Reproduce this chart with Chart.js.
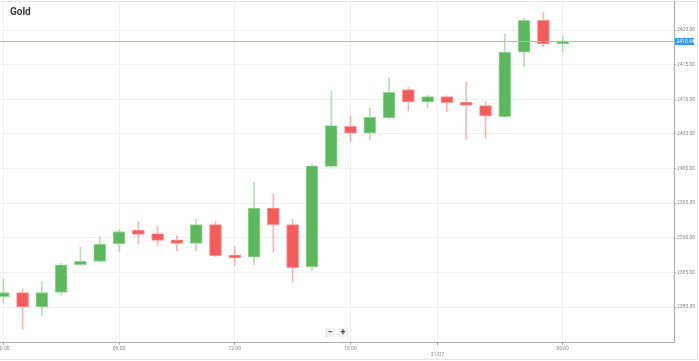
<!DOCTYPE html>
<html><head><meta charset="utf-8">
<script src="https://cdn.jsdelivr.net/npm/chart.js@4/dist/chart.umd.min.js"></script>
<style>
html,body{margin:0;padding:0;background:#fff;}
#wrap{position:relative;width:699px;height:361px;overflow:hidden;font-family:Roboto,sans-serif;}
#frame{position:absolute;left:-1px;top:1px;width:699px;height:359px;border:1px solid #e6e6e6;box-sizing:border-box;}
#title{position:absolute;left:10px;top:6px;font:bold 10px Roboto,sans-serif;color:#3a3a3a;}
canvas{position:absolute;left:0;top:0;}
.btn{position:absolute;top:328px;width:10px;height:9px;background:#f0f0f0;color:#444;font:bold 9px/9px Roboto,sans-serif;text-align:center;}
</style></head>
<body>
<div id="wrap">
<div id="frame"></div>
<canvas id="c" width="699" height="361"></canvas>
<div id="title">Gold</div>
<div class="btn" style="left:325px">−</div>
<div class="btn" style="left:338px">+</div>
</div>
<script>
// Hourly candles (index 0 = 00:00 on 30/07)
const opens  = [2381.5,2382.1,2380.0,2382.1,2386.1,2386.6,2389.1,2391.1,2390.6,2389.7,2389.2,2391.9,2387.5,2387.2,2394.3,2391.9,2385.8,2400.3,2406.1,2405.1,2407.3,2411.4,2409.6,2410.4,2409.6,2409.1,2407.5,2416.8,2421.4,2418.0];
const highs  = [2384.0,2382.6,2383.6,2386.3,2388.6,2390.2,2391.2,2392.3,2391.7,2390.3,2392.7,2392.4,2388.7,2398.0,2396.3,2392.7,2400.6,2411.2,2407.6,2408.7,2413.1,2411.7,2410.6,2410.5,2412.5,2409.7,2419.4,2421.7,2422.5,2419.1];
const lows   = [2380.6,2376.8,2378.8,2381.7,2386.0,2386.5,2388.0,2389.1,2388.9,2388.1,2388.1,2387.3,2386.0,2386.1,2387.9,2383.6,2385.3,2400.2,2403.9,2404.1,2407.2,2408.3,2408.8,2408.2,2404.2,2404.4,2407.4,2414.7,2417.6,2416.9];
const closes = [2382.1,2380.0,2382.1,2386.1,2386.6,2389.1,2390.9,2390.5,2389.6,2389.2,2391.9,2387.4,2387.1,2394.3,2391.9,2385.7,2400.4,2406.2,2405.1,2407.4,2411.0,2409.6,2410.4,2409.5,2409.1,2407.6,2416.8,2421.4,2418.0,2418.44];
const xTickValues = [0, 6, 12, 18, 22.5, 29];
const xTickLabels = ['00:00', '06:00', '12:00', '18:00', ['', '31/07'], '06:00'];
const yTicks = [2380, 2385, 2390, 2395, 2400, 2405, 2410, 2415, 2420];
const lastPrice = closes[closes.length - 1];

const up = opens.map((o, i) => closes[i] >= o);
const GREEN = '#5cb85c', RED = '#f45b5b';
const bodyData = opens.map((o, i) => ({x: i, y: [o, closes[i]]}));
const wickData = lows.map((l, i) => ({x: i, y: [l, highs[i]]}));

const priceLine = {
  id: 'priceLine',
  afterDatasetsDraw(chart) {
    const {ctx, chartArea, scales} = chart;
    const y = Math.round(scales.y.getPixelForValue(lastPrice));
    ctx.save();
    ctx.fillStyle = '#8cc3ef';
    ctx.fillRect(chartArea.left, y, chartArea.right - chartArea.left, 1);
    ctx.fillStyle = '#2e9bf0';
    ctx.fillRect(chartArea.right + 1, y - 3, 19, 7);
    ctx.fillStyle = '#fff';
    ctx.font = '5px Roboto';
    ctx.textBaseline = 'middle';
    ctx.textAlign = 'left';
    ctx.fillText(lastPrice.toFixed(2), chartArea.right + 2.5, y + 0.5);
    ctx.restore();
  }
};

const pad = {top: 1, left: 0, right: 0, bottom: 0};
const chart = new Chart(document.getElementById('c'), {
  type: 'bar',
  data: {
    datasets: [
      {
        label: 'wick', data: wickData, grouped: false, order: 2,
        barThickness: 1,
        backgroundColor: up.map(u => u ? 'rgba(92,184,92,0.45)' : 'rgba(244,91,91,0.45)'),
        borderWidth: 0
      },
      {
        label: 'body', data: bodyData, grouped: false, order: 1,
        barThickness: 12, minBarLength: 2,
        backgroundColor: up.map(u => u ? GREEN : RED),
        borderColor: up.map(u => u ? 'rgba(150,215,150,1)' : 'rgba(250,150,150,1)'),
        borderWidth: 1, borderSkipped: false
      }
    ]
  },
  options: {
    responsive: false,
    animation: false,
    layout: {autoPadding: false, padding: pad},
    plugins: {legend: {display: false}, tooltip: {enabled: false}},
    scales: {
      x: {
        type: 'linear', min: -0.17, max: 34.77, offset: false,
        afterBuildTicks: s => { s.ticks = xTickValues.map(v => ({value: v})); },
        afterFit: s => { s.height = 19; s.paddingLeft = 0; s.paddingRight = 0; },
        grid: {offset: false, color: '#efefef', tickColor: '#aaa', tickLength: 3},
        border: {color: '#aaa'},
        ticks: {
          autoSkip: false, maxRotation: 0, padding: 1,
          color: '#888', font: {family: 'Roboto', size: 5},
          callback: (v, i) => xTickLabels[i]
        }
      },
      y: {
        position: 'right', min: 2374.95, max: 2424.19,
        afterBuildTicks: s => { s.ticks = yTicks.map(v => ({value: v})); },
        afterFit: s => { s.width = 25; s.paddingTop = 0; s.paddingBottom = 0; },
        grid: {color: '#f1f1f1', tickColor: '#aaa', tickLength: 2},
        border: {color: '#aaa'},
        ticks: {
          padding: 1, color: '#888', font: {family: 'Roboto', size: 5},
          callback: v => Number(v).toFixed(2)
        }
      }
    }
  },
  plugins: [priceLine]
});

// nudge the layout so the plot area sits at left 0, top 1, right 674, bottom 342
for (let k = 0; k < 3; k++) {
  const a = chart.chartArea;
  pad.left += 0 - a.left;
  pad.top += 1 - a.top;
  pad.right += a.right - 674;
  pad.bottom += a.bottom - 342;
  chart.update();
}
</script>
</body></html>
